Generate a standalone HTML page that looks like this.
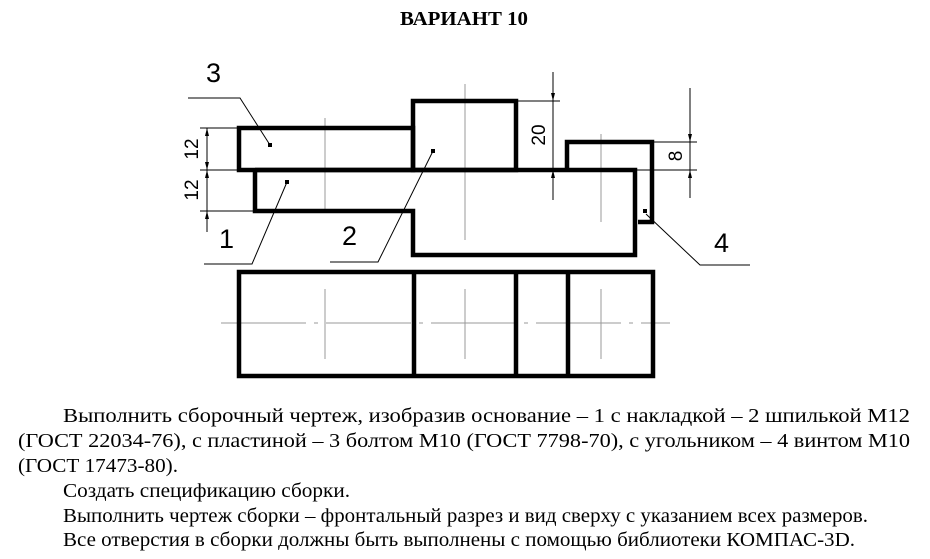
<!DOCTYPE html>
<html><head><meta charset="utf-8"><style>
html,body{margin:0;padding:0;background:#fff;}
svg{display:block;}
</style></head><body>
<svg width="930" height="559" viewBox="0 0 930 559" xmlns="http://www.w3.org/2000/svg">
<text x="464" y="25" text-anchor="middle" font-family="Liberation Serif, serif" font-weight="bold" font-size="20" textLength="128" lengthAdjust="spacingAndGlyphs">ВАРИАНТ 10</text>

<g stroke="#999" stroke-width="1">
<line x1="325" y1="118" x2="325" y2="212"/>
<line x1="465" y1="84" x2="465" y2="240"/>
<line x1="601" y1="134" x2="601" y2="222"/>
<line x1="221" y1="323" x2="670" y2="323" stroke-dasharray="85,8,4,8"/>
<line x1="325" y1="289" x2="325" y2="359"/>
<line x1="465" y1="289" x2="465" y2="359"/>
<line x1="601" y1="289" x2="601" y2="359"/>
</g>

<g stroke="#000" stroke-width="1" fill="none">
<line x1="200" y1="128" x2="239" y2="128"/>
<line x1="200" y1="170" x2="255" y2="170"/>
<line x1="200" y1="211" x2="255" y2="211"/>
<line x1="207" y1="128" x2="207" y2="232"/>
<line x1="516" y1="101" x2="560" y2="101"/>
<line x1="553" y1="72" x2="553" y2="200"/>
<line x1="652" y1="142" x2="697" y2="142"/>
<line x1="637" y1="170" x2="697" y2="170"/>
<line x1="690" y1="88" x2="690" y2="198"/>
<polyline points="188,98 240,98 270,145"/>
<polyline points="204,264 252,264 287,182"/>
<polyline points="330,262 378,262 433,151"/>
<polyline points="646,214 700,265 750,265"/>
</g>
<g fill="#000">
<polygon points="207,128 205,136 209,136"/><polygon points="207,170 205,162 209,162"/>
<polygon points="207,170 205,178 209,178"/><polygon points="207,211 205,219 209,219"/>
<polygon points="553,101 551,93 555,93"/><polygon points="553,170 551,178 555,178"/>
<polygon points="690,142 688,134 692,134"/><polygon points="690,170 688,178 692,178"/>
<rect x="268" y="143" width="4" height="4"/><rect x="285" y="180" width="4" height="4"/>
<rect x="431" y="149" width="4" height="4"/><rect x="643" y="209" width="4" height="4"/>
</g>

<g stroke="#000" stroke-width="4.5" fill="none" stroke-linejoin="miter">
<rect x="239" y="128" width="174" height="42"/>
<rect x="413" y="101" width="103" height="69"/>
<polyline points="255,170 635,170 635,255 413,255 413,211 255,211 255,170"/>
<polyline points="567,170 567,142 652,142 652,222 638,222"/>
<rect x="239" y="272" width="414" height="104"/>
<line x1="414" y1="272" x2="414" y2="376"/>
<line x1="516" y1="272" x2="516" y2="376"/>
<line x1="568" y1="272" x2="568" y2="376"/>
</g>

<g font-family="Liberation Sans, sans-serif" font-size="27">
<text x="206" y="82">3</text>
<text x="219" y="248">1</text>
<text x="342" y="245">2</text>
<text x="714" y="252">4</text>
</g>
<g font-family="Liberation Sans, sans-serif" font-size="19">
<text transform="translate(198,149) rotate(-90)" text-anchor="middle">12</text>
<text transform="translate(198,190) rotate(-90)" text-anchor="middle">12</text>
<text transform="translate(545,135) rotate(-90)" text-anchor="middle">20</text>
<text transform="translate(682,156) rotate(-90)" text-anchor="middle">8</text>
</g>

<g font-family="Liberation Serif, serif" font-size="20">
<text x="63" y="422" textLength="847" lengthAdjust="spacingAndGlyphs">Выполнить сборочный чертеж, изобразив основание – 1 с накладкой – 2 шпилькой М12</text>
<text x="18" y="447" textLength="892" lengthAdjust="spacingAndGlyphs">(ГОСТ 22034-76), с пластиной – 3 болтом М10 (ГОСТ 7798-70), с угольником – 4 винтом М10</text>
<text x="18" y="472" textLength="160" lengthAdjust="spacingAndGlyphs">(ГОСТ 17473-80).</text>
<text x="63" y="497" textLength="287" lengthAdjust="spacingAndGlyphs">Создать спецификацию сборки.</text>
<text x="63" y="522" textLength="805" lengthAdjust="spacingAndGlyphs">Выполнить чертеж сборки – фронтальный разрез и вид сверху с указанием всех размеров.</text>
<text x="63" y="546" textLength="792" lengthAdjust="spacingAndGlyphs">Все отверстия в сборки должны быть выполнены с помощью библиотеки КОМПАС-3D.</text>
</g>
</svg>
</body></html>
